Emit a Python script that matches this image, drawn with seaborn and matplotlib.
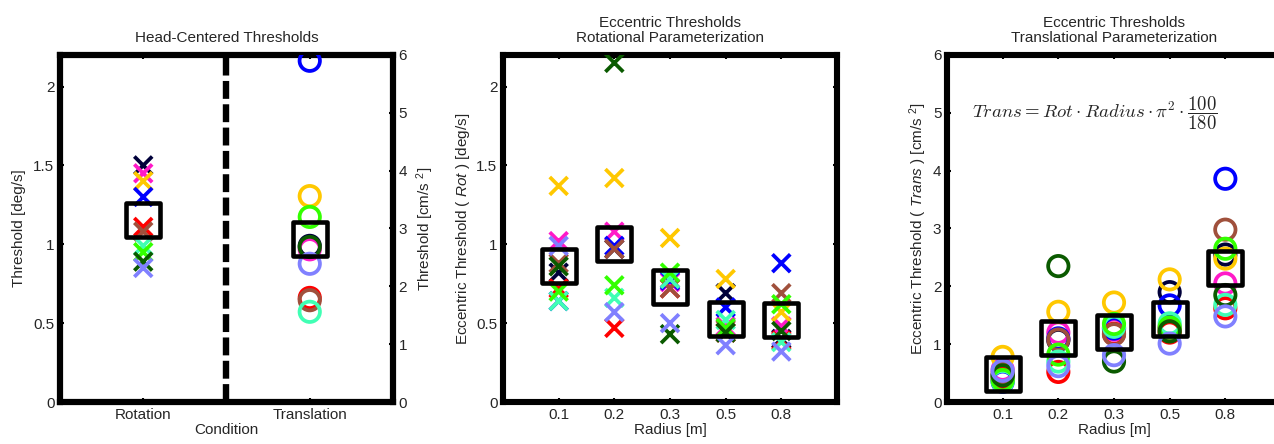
import numpy as np
import pandas as pd
import matplotlib
matplotlib.use("Agg")
import matplotlib.pyplot as plt
import seaborn as sns

# ---------------- data ----------------
subjects = ["S1", "S2", "S3", "S4", "S5", "S6", "S7", "S8", "S9", "S10"]
subject_colors = ["#00003A", "#FF19C8", "#FFC800", "#0000FF", "#FF0000",
                  "#A0503C", "#40FFB4", "#33FF00", "#0A5A00", "#8080FF"]

conditions = ["Rotation", "Translation"]
head_rot = [1.50, 1.45, 1.40, 1.30, 1.11, 1.08, 0.99, 0.95, 0.89, 0.85]      # deg/s
head_trans = [2.70, 2.64, 3.56, 5.90, 1.80, 1.76, 1.56, 3.20, 2.68, 2.39]    # cm/s^2

radii = ["0.1", "0.2", "0.3", "0.5", "0.8"]
rot_r01 = [0.82, 1.02, 1.37, 0.64, 0.72, 0.88, 0.64, 0.70, 0.86, 0.99]
rot_r02 = [0.97, 1.08, 1.42, 0.99, 0.47, 0.97, 0.66, 0.74, 2.15, 0.57]
rot_r03 = [0.78, 0.76, 1.04, 0.77, 0.72, 0.72, 0.78, 0.82, 0.43, 0.50]
rot_r05 = [0.69, 0.48, 0.78, 0.60, 0.44, 0.46, 0.52, 0.47, 0.44, 0.36]
rot_r08 = [0.40, 0.48, 0.57, 0.88, 0.39, 0.69, 0.38, 0.62, 0.45, 0.32]

trans_r01 = [0.45, 0.56, 0.78, 0.35, 0.40, 0.50, 0.36, 0.38, 0.46, 0.54]
trans_r02 = [1.07, 1.20, 1.56, 1.10, 0.52, 1.08, 0.70, 0.82, 2.35, 0.62]
trans_r03 = [1.28, 1.25, 1.72, 1.27, 1.18, 1.17, 1.30, 1.35, 0.70, 0.81]
trans_r05 = [1.90, 1.30, 2.12, 1.67, 1.20, 1.26, 1.36, 1.29, 1.22, 1.01]
trans_r08 = [2.55, 2.05, 2.48, 3.86, 1.62, 2.98, 1.68, 2.65, 1.85, 1.48]

# ---------------- tables ----------------
def long_table(cols):
    rows = []
    for r, vals in zip(radii, cols):
        for s, v in zip(subjects, vals):
            rows.append({"radius": r, "subject": s, "value": v})
    return pd.DataFrame(rows)

df_rot = long_table([rot_r01, rot_r02, rot_r03, rot_r05, rot_r08])
df_trans = long_table([trans_r01, trans_r02, trans_r03, trans_r05, trans_r08])
df_head_rot = pd.DataFrame({"pos": conditions.index("Rotation") + 1,
                            "subject": subjects, "value": head_rot})
df_head_trans = pd.DataFrame({"pos": conditions.index("Translation") + 1,
                              "subject": subjects, "value": head_trans})
palette = dict(zip(subjects, subject_colors))

# ---------------- style ----------------
sns.set_theme(style="white")
plt.rcParams["font.family"] = ["Liberation Sans", "DejaVu Sans"]
plt.rcParams["mathtext.fontset"] = "custom"
plt.rcParams["mathtext.rm"] = "Liberation Sans"
plt.rcParams["mathtext.it"] = "Liberation Sans:italic"
plt.rcParams["mathtext.bf"] = "Liberation Sans:bold"

FS = 11
SPINE_LW = 4.4
X_S, X_LW = 165, 2.7
O_S, O_LW = 215, 2.7
SQ_S, SQ_LW = 600, 3.3

fig = plt.figure(figsize=(12.74, 4.44), dpi=100)
H = 444.0
W = 1274.0
bottom = (H - 402) / H
height = (402 - 55) / H
ax1 = fig.add_axes([60 / W, bottom, 333 / W, height])
ax2 = fig.add_axes([503 / W, bottom, 334 / W, height])
ax3 = fig.add_axes([947 / W, bottom, 334 / W, height])


def open_markers(ax):
    coll = ax.collections[-1]
    fc = coll.get_facecolors()
    coll.set_edgecolors(fc)
    coll.set_facecolors("none")


def style_axes(ax, right=True):
    for sp in ax.spines.values():
        sp.set_linewidth(SPINE_LW)
        sp.set_color("black")
        sp.set_capstyle("projecting")
    ax.tick_params(direction="in", length=3, width=1.5, color="black",
                   top=True, right=right, bottom=True, left=True,
                   labelsize=FS, pad=4)
    ax.grid(False)


# ---------------- panel 1 ----------------
sns.scatterplot(data=df_head_rot, x="pos", y="value", hue="subject",
                palette=palette, marker="x", s=X_S, linewidth=X_LW,
                legend=False, ax=ax1, zorder=3)
mean_rot = df_head_rot.groupby("pos", as_index=False)["value"].mean()
sns.scatterplot(data=mean_rot, x="pos", y="value", marker="s", s=SQ_S,
                color="black", linewidth=SQ_LW, legend=False, ax=ax1, zorder=4)
open_markers(ax1)
ax1.axvline(1.5, color="black", lw=4.6, linestyle=(0, (2.8, 0.85)), zorder=2)
ax1.set_xlim(0.5, 2.5)
ax1.set_ylim(0, 2.2)
ax1.set_yticks([0, 0.5, 1, 1.5, 2])
ax1.set_yticklabels(["0", "0.5", "1", "1.5", "2"])
ax1.set_xticks([1, 2])
ax1.set_xticklabels(conditions)
ax1.set_xlabel("Condition", fontsize=FS, labelpad=1)
ax1.set_ylabel("Threshold [deg/s]", fontsize=FS, labelpad=5)
ax1.set_title("Head-Centered Thresholds", fontsize=FS, pad=9)
style_axes(ax1, right=False)

ax1b = ax1.twinx()
sns.scatterplot(data=df_head_trans, x="pos", y="value", hue="subject",
                palette=palette, marker="o", s=O_S, linewidth=O_LW,
                legend=False, ax=ax1b, zorder=3)
open_markers(ax1b)
mean_trans = df_head_trans.groupby("pos", as_index=False)["value"].mean()
sns.scatterplot(data=mean_trans, x="pos", y="value", marker="s", s=SQ_S,
                color="black", linewidth=SQ_LW, legend=False, ax=ax1b, zorder=4)
open_markers(ax1b)
ax1b.set_ylim(0, 6)
ax1b.set_yticks(range(7))
ax1b.set_xlim(0.5, 2.5)
ax1b.set_ylabel("Threshold [cm/s $^2$]", fontsize=FS, rotation=90, labelpad=5)
ax1b.set_xlabel("")
style_axes(ax1b)
ax1b.tick_params(left=False, labelleft=False, right=True, labelright=True)

# ---------------- panel 2 ----------------
sns.scatterplot(data=df_rot, x="radius", y="value", hue="subject",
                palette=palette, marker="x", s=X_S, linewidth=X_LW,
                legend=False, ax=ax2, zorder=3)
mean_r = df_rot.groupby("radius", as_index=False, sort=False)["value"].mean()
sns.scatterplot(data=mean_r, x="radius", y="value", marker="s", s=SQ_S,
                color="black", linewidth=SQ_LW, legend=False, ax=ax2, zorder=4)
open_markers(ax2)
ax2.set_xlim(-1, 5)
ax2.set_ylim(0, 2.2)
ax2.set_yticks([0, 0.5, 1, 1.5, 2])
ax2.set_yticklabels(["0", "0.5", "1", "1.5", "2"])
ax2.set_xlabel("Radius [m]", fontsize=FS, labelpad=1)
ax2.set_ylabel("Eccentric Threshold ( $\\mathit{Rot}$ ) [deg/s]", fontsize=FS, labelpad=3)
ax2.set_title("Eccentric Thresholds\nRotational Parameterization", fontsize=FS, pad=9,
              linespacing=1.1)
style_axes(ax2)

# ---------------- panel 3 ----------------
sns.scatterplot(data=df_trans, x="radius", y="value", hue="subject",
                palette=palette, marker="o", s=O_S, linewidth=O_LW,
                legend=False, ax=ax3, zorder=3)
open_markers(ax3)
mean_t = df_trans.groupby("radius", as_index=False, sort=False)["value"].mean()
sns.scatterplot(data=mean_t, x="radius", y="value", marker="s", s=SQ_S,
                color="black", linewidth=SQ_LW, legend=False, ax=ax3, zorder=4)
open_markers(ax3)
ax3.set_xlim(-1, 5)
ax3.set_ylim(0, 6)
ax3.set_yticks(range(7))
ax3.set_xlabel("Radius [m]", fontsize=FS, labelpad=1)
ax3.set_ylabel("Eccentric Threshold ( $\\mathit{Trans}$ ) [cm/s $^2$]", fontsize=FS, labelpad=3)
ax3.set_title("Eccentric Thresholds\nTranslational Parameterization", fontsize=FS, pad=9,
              linespacing=1.1)
ax3.text(-0.55, 5.0, r"$Trans = Rot \cdot Radius \cdot \pi^2 \cdot \dfrac{100}{180}$",
         fontsize=13.5, math_fontfamily="cm", ha="left", va="center")
style_axes(ax3)

fig.savefig("out.png", dpi=100)
